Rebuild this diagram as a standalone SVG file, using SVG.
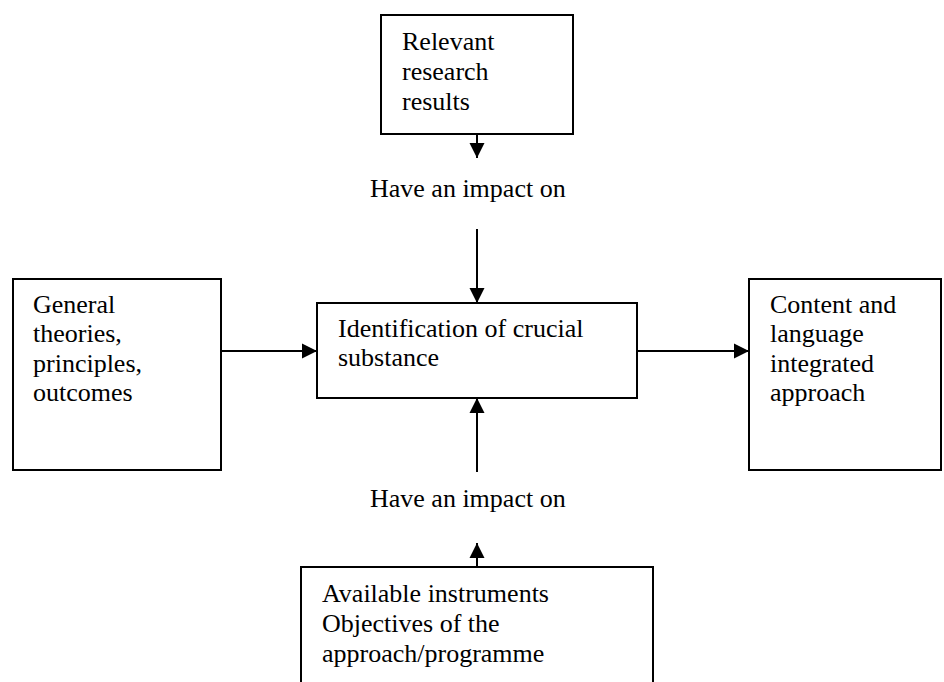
<svg xmlns="http://www.w3.org/2000/svg" width="944" height="682" viewBox="0 0 944 682">
<defs>
<style>
.box{fill:#fff;stroke:#000;stroke-width:2}
.t{font-family:"Liberation Serif","Times New Roman",serif;font-size:26px;fill:#000}
.c{stroke:#000;stroke-width:2;fill:none;marker-end:url(#ah)}
</style>
<marker id="ah" markerUnits="userSpaceOnUse" markerWidth="16" markerHeight="16" viewBox="0 0 16 16" refX="15" refY="8" orient="auto">
<path d="M0,0.5 L15,8 L0,15.5 Z" fill="#000"/>
</marker>
</defs>
<rect width="944" height="682" fill="#fff"/>
<g id="connectors">
<line class="c" x1="477" y1="134" x2="477" y2="158"/>
<line class="c" x1="477" y1="229" x2="477" y2="303"/>
<line class="c" x1="221" y1="351" x2="317" y2="351"/>
<line class="c" x1="637" y1="351" x2="749" y2="351"/>
<line class="c" x1="477" y1="567" x2="477" y2="543"/>
<line class="c" x1="477" y1="472" x2="477" y2="398"/>
</g>
<g id="relevant">
<rect class="box" x="381" y="15" width="192" height="119"/>
<text class="t" x="402" y="50">Relevant</text>
<text class="t" x="402" y="80">research</text>
<text class="t" x="402" y="110">results</text>
</g>
<g id="label-top">
<text class="t" x="370" y="197">Have an impact on</text>
</g>
<g id="general">
<rect class="box" x="13" y="279" width="208" height="191"/>
<text class="t" x="33" y="313">General</text>
<text class="t" x="33" y="342">theories,</text>
<text class="t" x="33" y="372">principles,</text>
<text class="t" x="33" y="401">outcomes</text>
</g>
<g id="identification">
<rect class="box" x="317" y="303" width="320" height="95"/>
<text class="t" x="338" y="337">Identification of crucial</text>
<text class="t" x="338" y="366">substance</text>
</g>
<g id="content">
<rect class="box" x="749" y="279" width="192" height="191"/>
<text class="t" x="770" y="313">Content and</text>
<text class="t" x="770" y="342">language</text>
<text class="t" x="770" y="372">integrated</text>
<text class="t" x="770" y="401">approach</text>
</g>
<g id="label-bottom">
<text class="t" x="370" y="507">Have an impact on</text>
</g>
<g id="available">
<rect class="box" x="301" y="567" width="352" height="130"/>
<text class="t" x="322" y="602">Available instruments</text>
<text class="t" x="322" y="632">Objectives of the</text>
<text class="t" x="322" y="662">approach/programme</text>
</g>
</svg>
